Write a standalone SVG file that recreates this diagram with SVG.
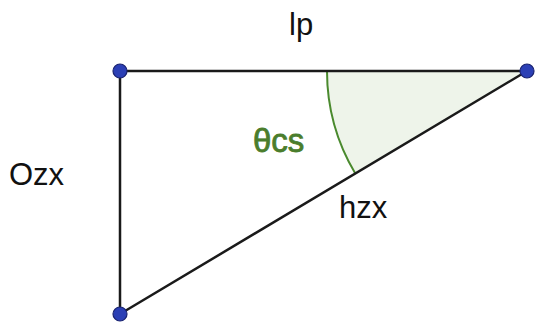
<svg xmlns="http://www.w3.org/2000/svg" width="535" height="324" viewBox="0 0 535 324">
<style>
.edge{stroke:#1a1a1a;stroke-width:2.5;fill:none;stroke-linecap:round}
.pt{fill:#2b3fb5;stroke:#1a2370;stroke-width:1.2}
.lbl{font-family:"Liberation Sans",Arial,sans-serif;font-size:31px;fill:#111}
.ang{font-family:"Liberation Sans",Arial,sans-serif;font-size:33px;fill:#4a7d2c;stroke:#4a7d2c;stroke-width:0.8}
</style>
<rect width="535" height="324" fill="#fff"/>
<g id="angle">
<path d="M527 71 L327 71 A200 200 0 0 0 355.3 173.5 Z" fill="#eef4ea" stroke="none"/>
<path d="M327 71 A200 200 0 0 0 355.3 173.5" fill="none" stroke="#4a8a2e" stroke-width="2"/>
<text class="ang" x="253" y="152">θcs</text>
</g>
<g id="connectors">
<line class="edge" x1="120" y1="71" x2="527" y2="71"/>
<line class="edge" x1="120" y1="71" x2="120" y2="314"/>
<line class="edge" x1="120" y1="314" x2="527" y2="71"/>
</g>
<g id="A"><circle class="pt" cx="120" cy="71" r="7"/></g>
<g id="B"><circle class="pt" cx="527" cy="71" r="7"/></g>
<g id="C"><circle class="pt" cx="120" cy="314" r="7"/></g>
<g id="labels">
<text class="lbl" x="289" y="35">lp</text>
<text class="lbl" x="9" y="185">Ozx</text>
<text class="lbl" x="339" y="218">hzx</text>
</g>
</svg>
